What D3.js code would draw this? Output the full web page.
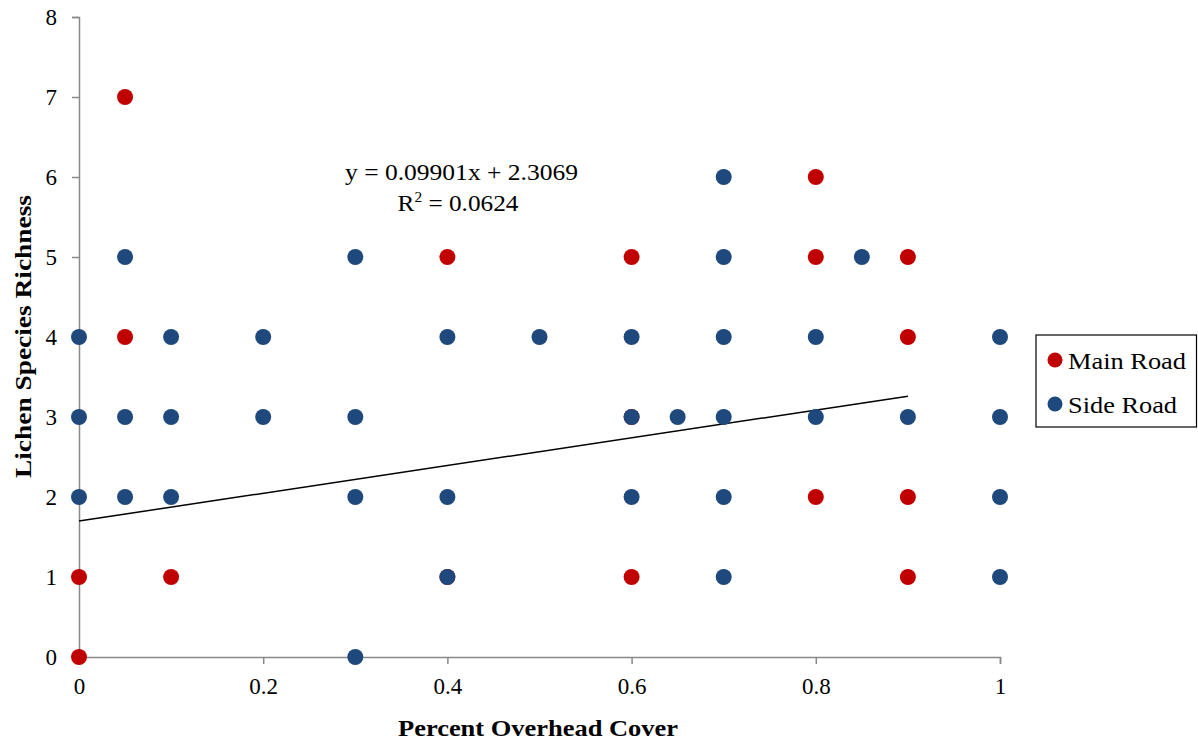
<!DOCTYPE html>
<html><head><meta charset="utf-8">
<script src="https://cdn.jsdelivr.net/npm/d3@7"></script>
<style>body{margin:0;background:#fff}svg{display:block}text{font-family:"Liberation Serif","Times New Roman",serif}</style>
</head><body>
<script>
const mainX = [0.05, 0.8, 0.4, 0.6, 0.8, 0.9, 0.05, 0.9, 0.6, 0.8, 0.9, 0, 0.1, 0.6, 0.9, 0, 0.4];
const mainY = [7, 6, 5, 5, 5, 5, 4, 4, 3, 2, 2, 1, 1, 1, 1, 0, 1];
const sideX = [0.7, 0.05, 0.3, 0.7, 0.85, 0, 0.1, 0.2, 0.4, 0.5, 0.6, 0.7, 0.8, 1,
  0, 0.05, 0.1, 0.2, 0.3, 0.6, 0.65, 0.7, 0.8, 0.9, 1,
  0, 0.05, 0.1, 0.3, 0.4, 0.6, 0.7, 1, 0.4, 0.7, 1, 0.3];
const sideY = [6, 5, 5, 5, 5, 4, 4, 4, 4, 4, 4, 4, 4, 4,
  3, 3, 3, 3, 3, 3, 3, 3, 3, 3, 3,
  2, 2, 2, 2, 2, 2, 2, 2, 1, 1, 1, 0];
const trendX = [0, 0.9];
const trendY = [1.70, 3.26];
const xTicks = [0, 0.2, 0.4, 0.6, 0.8, 1];
const yTicks = [0, 1, 2, 3, 4, 5, 6, 7, 8];
const seriesNames = ["Main Road", "Side Road"];
const colors = ["#C00000", "#1F497D"];

const W = 1198, H = 742;
const svg = d3.select("body").append("svg").attr("width", W).attr("height", H);
const x = d3.scaleLinear().domain([0, 1]).range([79, 1000]);
const y = d3.scaleLinear().domain([0, 8]).range([657, 17]);
const axisColor = "#898989";

const xAxis = svg.append("g").attr("transform", `translate(0,${y(0)})`)
  .call(d3.axisBottom(x).tickValues(xTicks).tickFormat(d => String(d)).tickSizeOuter(0).tickSize(7).tickPadding(14));
const yAxis = svg.append("g").attr("transform", `translate(${x(0)},0)`)
  .call(d3.axisLeft(y).tickValues(yTicks).tickFormat(d => String(d)).tickSizeOuter(0).tickSize(7).tickPadding(15));
[xAxis, yAxis].forEach(g => {
  g.select(".domain").attr("stroke", axisColor).attr("stroke-width", 1.5);
  g.selectAll(".tick line").attr("stroke", axisColor).attr("stroke-width", 1.5);
  g.selectAll(".tick text").attr("fill", "#000").attr("font-size", 23).attr("font-family", "Liberation Serif");
});
xAxis.selectAll(".tick text").attr("dy", "0.71em");

// trend line
svg.append("line")
  .attr("x1", x(trendX[0])).attr("y1", y(trendY[0]))
  .attr("x2", x(trendX[1])).attr("y2", y(trendY[1]))
  .attr("stroke", "#000").attr("stroke-width", 1.5);

// points
const mainPts = mainX.map((v, i) => ({x: v, y: mainY[i]}));
const sidePts = sideX.map((v, i) => ({x: v, y: sideY[i]}));
svg.append("g").selectAll("circle").data(mainPts).join("circle")
  .attr("cx", d => x(d.x)).attr("cy", d => y(d.y)).attr("r", 8).attr("fill", colors[0]);
svg.append("g").selectAll("circle").data(sidePts).join("circle")
  .attr("cx", d => x(d.x)).attr("cy", d => y(d.y)).attr("r", 8).attr("fill", colors[1]);

// equation
svg.append("text").attr("x", 461.5).attr("y", 180).attr("text-anchor", "middle").attr("font-size", 23)
  .attr("textLength", 233).attr("lengthAdjust", "spacingAndGlyphs")
  .text("y = 0.09901x + 2.3069");
const r2 = svg.append("text").attr("transform", "translate(458,211) scale(1.1,1)").attr("text-anchor", "middle").attr("font-size", 23);
r2.append("tspan").text("R");
r2.append("tspan").attr("font-size", 14).attr("dy", -9).text("2");
r2.append("tspan").attr("dy", 9).text(" = 0.0624");

// axis titles
svg.append("text").attr("x", 538).attr("y", 736).attr("text-anchor", "middle")
  .attr("font-size", 24).attr("font-weight", "bold")
  .attr("textLength", 280).attr("lengthAdjust", "spacingAndGlyphs").text("Percent Overhead Cover");
svg.append("text").attr("transform", "translate(31,336.5) rotate(-90)").attr("text-anchor", "middle")
  .attr("font-size", 24).attr("font-weight", "bold")
  .attr("textLength", 283).attr("lengthAdjust", "spacingAndGlyphs").text("Lichen Species Richness");

// legend
const lg = svg.append("g");
lg.append("rect").attr("x", 1036).attr("y", 335).attr("width", 160.5).attr("height", 92)
  .attr("fill", "#fff").attr("stroke", "#000").attr("stroke-width", 1.2);
const legendLen = [118, 109];
seriesNames.forEach((n, i) => {
  const cy = 360 + i * 44;
  lg.append("circle").attr("cx", 1055).attr("cy", cy).attr("r", 7.5).attr("fill", colors[i]);
  lg.append("text").attr("x", 1068).attr("y", cy + 9).attr("font-size", 24)
    .attr("textLength", legendLen[i]).attr("lengthAdjust", "spacingAndGlyphs").text(n);
});
</script>
</body></html>
